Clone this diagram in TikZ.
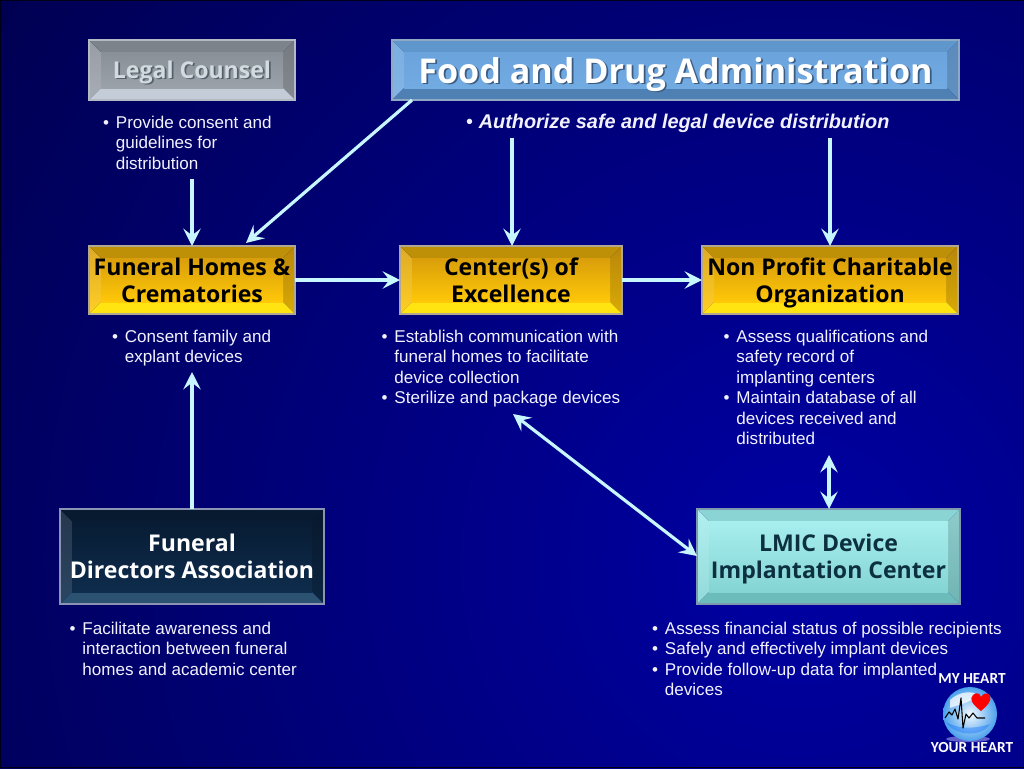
\documentclass[tikz,border=0pt]{standalone}
\usepackage{fontspec}
\setmainfont{Liberation Sans}
\newfontfamily\headfont{Open Sans}
\newfontfamily\logofont{Carlito}
\usetikzlibrary{arrows.meta}
\newcommand\palette[8]{%
  \definecolor{#1T}{HTML}{#2}\definecolor{#1B}{HTML}{#3}\definecolor{#1L}{HTML}{#4}%
  \definecolor{#1R}{HTML}{#5}\definecolor{#1CT}{HTML}{#6}\definecolor{#1CB}{HTML}{#7}\definecolor{#1E}{HTML}{#8}}
\palette{greyb}{7C838B}{C4CCD8}{9298A0}{7A8088}{8A9098}{9CA2AA}{B4BAC4}
\palette{blueb}{5F97CC}{4F80B4}{8AB8E4}{4E7FB0}{6BA3DC}{72AAE2}{8FA8C4}
\palette{goldb}{BE9008}{FFE412}{E0A808}{B88A04}{D99E0A}{FFC808}{B0A890}
\palette{navyb}{071A30}{2C5272}{0C2238}{07182C}{081C34}{0E2C4C}{8C94B4}
\palette{aquab}{8AD4D4}{6CBCBC}{C0F4F4}{6AB4B4}{A8EEEE}{84D4D4}{7E98B0}
\definecolor{arrowc}{HTML}{C8F6FF}
\definecolor{bodyc}{HTML}{F2F2FF}
\definecolor{inkdark}{HTML}{0C3040}
\definecolor{bginner}{HTML}{0000A4}
\definecolor{bgouter}{HTML}{000050}
\definecolor{legalink}{HTML}{D2DCE0}
\definecolor{legalshadow}{HTML}{55606A}
\definecolor{fdashadow}{HTML}{3A5A80}
\definecolor{globeout}{HTML}{4AA0EC}
\definecolor{globein}{HTML}{F4FAFF}
\newcommand\bevelbox[8]{%
  \pgfmathsetmacro\xc{#2+12}\pgfmathsetmacro\xd{#4-12}%
  \pgfmathsetmacro\yc{#3+12}\pgfmathsetmacro\yd{#5-12}%
  \shade[top color=#6CT!88!white,bottom color=#6CB!88!white] (#2,#3) -- (\xc,\yc) -- (\xc,\yd) -- (#2,#5) -- cycle;
  \shade[top color=#6CT!85!black,bottom color=#6CB!85!black] (#4,#3) -- (\xd,\yc) -- (\xd,\yd) -- (#4,#5) -- cycle;
  \fill[#6T] (#2,#3) -- (#4,#3) -- (\xd,\yc) -- (\xc,\yc) -- cycle;
  \fill[#6B] (#2,#5) -- (#4,#5) -- (\xd,\yd) -- (\xc,\yd) -- cycle;
  \shade[top color=#6CT,bottom color=#6CB] (\xc,\yc) rectangle (\xd,\yd);
  \pgfmathsetmacro\bw{(#4-#2)*0.75}\pgfmathsetmacro\bh{(#5-#3)*0.75}%
  \pgfmathsetmacro\cx{(#2+#4)/2}\pgfmathsetmacro\cy{(#3+#5)/2}%
  \node[boxnode,draw=#6E,text=#8,minimum width=\bw pt,minimum height=\bh pt] (#1) at (\cx,\cy) {\rule{0pt}{17.5pt}#7\rule[-4.5pt]{0pt}{4.5pt}};
}
\newcommand\bl{\leavevmode\rule{0pt}{12pt}\makebox[9.7pt][l]{•}}
\newcommand\nl{\\\hspace*{9.7pt}}
\newcommand\shadowed[2]{\makebox[0pt][l]{\hspace{1.3pt}\raisebox{-1.3pt}{\color{#1}#2}}#2}
\tikzset{
  x=0.75pt,y=-0.75pt,
  boxnode/.style={rectangle,line width=0.8pt,inner sep=0pt,align=center,font=\headfont\bfseries\fontsize{17.3}{20.3}\selectfont},
  note/.style={anchor=north west,inner sep=0pt,outer sep=0pt,align=left,text=bodyc,font=\fontsize{12.8}{15.4}\selectfont},
  link/.style={line width=2.4pt,draw=arrowc,-{Stealth[length=13pt,width=13pt,inset=5pt]}},
  linkboth/.style={line width=2.4pt,draw=arrowc,{Stealth[length=13pt,width=13pt,inset=5pt]}-{Stealth[length=13pt,width=13pt,inset=5pt]}},
  logotext/.style={text=white,inner sep=0pt,font=\logofont\bfseries\fontsize{11.5}{13}\selectfont},
}
\begin{document}
\begin{tikzpicture}
\useasboundingbox (0,0) rectangle (1024,768);
\begin{scope}
\clip (0,0) rectangle (1024,768);
\shade[inner color=bginner,outer color=bgouter] (800,560) circle (1000);
\end{scope}
\draw[line width=1pt,black!70!bgouter] (0.5,0.5) rectangle (1023.5,767.5);

% boxes
\bevelbox{legal}{89}{40}{295}{100}{greyb}{\shadowed{legalshadow}{Legal Counsel}}{legalink}
\bevelbox{fda}{392}{40}{959}{100}{blueb}{\fontsize{25.6}{30}\selectfont\raisebox{-3.75pt}[\height][\depth]{\shadowed{fdashadow}{Food and Drug Administration}}}{white}
\bevelbox{homes}{89}{246}{295}{314}{goldb}{Funeral Homes \&\\Crematories}{black}
\bevelbox{coe}{400}{246}{622}{314}{goldb}{Center(s) of\\Excellence}{black}
\bevelbox{npo}{702}{246}{958}{314}{goldb}{Non Profit Charitable\\Organization}{black}
\bevelbox{assoc}{60}{509}{324}{604}{navyb}{Funeral\\Directors Association}{white}
\bevelbox{lmic}{697}{509}{960}{604}{aquab}{LMIC Device\\Implantation Center}{inkdark}

% notes
\node[note] (legalnote) at (103,112) {\bl Provide consent and\nl guidelines for\nl distribution};
\node[note,font=\bfseries\itshape\fontsize{14.9}{16}\selectfont] (fdanote) at (466,112) {\rule{0pt}{12pt}\makebox[9.6pt][l]{\normalfont •}Authorize safe and legal device distribution};
\node[note] (homesnote) at (112,326) {\bl Consent family and\nl explant devices};
\node[note] (coenote) at (381.5,326) {\bl Establish communication with\nl funeral homes to facilitate\nl device collection\\\bl Sterilize and package devices};
\node[note] (nponote) at (723.5,326) {\bl Assess qualifications and\nl safety record of\nl implanting centers\\\bl Maintain database of all\nl devices received and\nl distributed};
\node[note] (assocnote) at (69.5,618) {\bl Facilitate awareness and\nl interaction between funeral\nl homes and academic center};
\node[note] (lmicnote) at (652,618) {\bl Assess financial status of possible recipients\\\bl Safely and effectively implant devices\\\bl Provide follow-up data for implanted\nl devices};

% free connector ends
\coordinate (legalout) at (192,179);
\coordinate (fdaoutA) at (412,100);
\coordinate (fdaoutB) at (512,138);
\coordinate (fdaoutC) at (830,138);
\coordinate (homesin) at (246,243);
\coordinate (homesnoteb) at (192,372);
\coordinate (coenoteb) at (513,414);
\coordinate (lmicin) at (697,556);
\coordinate (nponoteb) at (829,455);
\coordinate (lmicup) at (829,509);
\coordinate (homesR) at (295,280);
\coordinate (coeL) at (400,280);
\coordinate (coeR) at (622,280);
\coordinate (npoL) at (702,280);
\coordinate (coeT) at (512,246);
\coordinate (npoT) at (830,246);
\coordinate (homesT) at (192,246);
\coordinate (assocT) at (192,509);

% connectors
\draw[link] (legalout) -- (homesT);
\draw[link] (fdaoutA) -- (homesin);
\draw[link] (fdaoutB) -- (coeT);
\draw[link] (fdaoutC) -- (npoT);
\draw[link] (homesR) -- (coeL);
\draw[link] (coeR) -- (npoL);
\draw[link] (assocT) -- (homesnoteb);
\draw[linkboth] (coenoteb) -- (lmicin);
\draw[linkboth] (nponoteb) -- (lmicup);

% logo
\node[logotext] (logotop) at (972,679) {MY HEART};
\node[logotext] (logobottom) at (972,748) {YOUR HEART};
\fill[white!70!blue,opacity=.55] (968,739) ellipse (22 and 3);
\shade[inner color=globein,outer color=globeout] (970,714) circle (27);
\fill[white,opacity=.75] (950,700) .. controls (958,692) and (972,690) .. (978,695) .. controls (970,703) and (960,704) .. (950,708) -- cycle;
\fill[blue!60!cyan,opacity=.35] (946,722) .. controls (956,728) and (972,730) .. (990,724) .. controls (984,736) and (956,738) .. (946,722) -- cycle;
\fill[red] (981,711) .. controls (972,704) and (969,699) .. (973,695) .. controls (976,692) and (980,693) .. (981,697) .. controls (983,693) and (988,692) .. (990,696) .. controls (992,700) and (988,705) .. (981,711) -- cycle;
\draw[black,line width=0.8pt,line join=round] (945,718) -- (949,712) -- (952,715) -- (955,709) -- (958,719) -- (961,698) -- (963,728) -- (966,714) -- (969,718) -- (973,713) -- (977,718) -- (985,718);
\end{tikzpicture}
\end{document}
